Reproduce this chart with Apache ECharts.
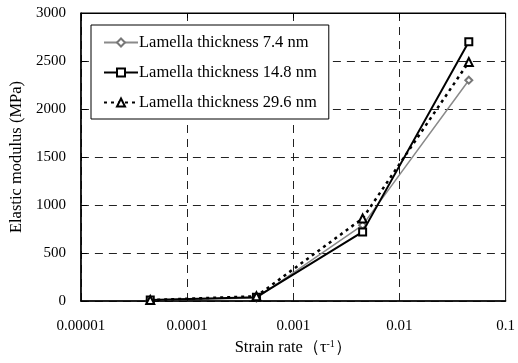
<!DOCTYPE html>
<html><head><meta charset="utf-8">
<script src="https://cdn.jsdelivr.net/npm/echarts@6/dist/echarts.min.js"></script>
<style>html,body{margin:0;padding:0;background:#fff}#c{width:518px;height:363px}</style>
</head><body><div id="c"></div>
<script>
const strainRates = [0.000045, 0.00045, 0.0045, 0.045];
const series74 = [10, 30, 790, 2300];
const series148 = [10, 40, 720, 2700];
const series296 = [10, 50, 860, 2490];
const seriesNames = ['Lamella thickness 7.4 nm', 'Lamella thickness 14.8 nm', 'Lamella thickness 29.6 nm'];
const xTickLabels = ['0.00001', '0.0001', '0.001', '0.01', '0.1'];
const yTicks = [0, 500, 1000, 1500, 2000, 2500, 3000];

const FONT = 'Liberation Serif';
const pairs = arr => strainRates.map((x, i) => [x, arr[i]]);
const chart = echarts.init(document.getElementById('c'));
const xLabel = v => {
  const e = Math.round(Math.log10(v));
  return xTickLabels[e + 5] || '';
};
chart.setOption({
  animation: false,
  textStyle: { fontFamily: FONT },
  grid: { left: 77, right: 9, top: 13, bottom: 62, show: true, borderColor: '#000', borderWidth: 1, backgroundColor: 'transparent' },
  legend: {
    orient: 'vertical', left: 91, top: 25,
    backgroundColor: '#fff', borderColor: '#000', borderWidth: 1,
    padding: [9, 12, 8, 12], itemWidth: 34, itemHeight: 10, itemGap: 13,
    textStyle: { fontFamily: FONT, fontSize: 16.5, color: '#000', padding: [0, 0, 0, -4] },
    data: seriesNames
  },
  xAxis: [{
    type: 'log', logBase: 10, min: 0.00001, max: 0.1,
    name: '{a|Strain rate（τ}{s|-1}{a|）}', nameLocation: 'middle', nameGap: 38,
    nameTextStyle: { rich: { a: { fontFamily: FONT, fontSize: 16.5, color: '#000' }, s: { fontFamily: FONT, fontSize: 10, color: '#000', verticalAlign: 'top', padding: [0, 0, 8, 0] } } },
    axisLine: { lineStyle: { color: '#000', width: 1.5 } },
    axisTick: { show: false },
    axisLabel: { formatter: xLabel, fontFamily: FONT, fontSize: 15, color: '#000', margin: 18 },
    splitLine: { show: true, lineStyle: { color: '#222', type: [8, 6], width: 1 } },
    minorTick: { show: false }
  }, {
    type: 'log', logBase: 10, min: 0.00001, max: 0.1, position: 'top',
    axisLine: { show: true, lineStyle: { color: '#000', width: 1 } },
    axisTick: { show: true, inside: true, length: 5, lineStyle: { color: '#000' } },
    axisLabel: { show: false }, splitLine: { show: false }
  }],
  yAxis: {
    type: 'value', min: 0, max: 3000, interval: 500,
    name: 'Elastic modulus (MPa)', nameLocation: 'middle', nameGap: 52, nameRotate: 90,
    nameTextStyle: { fontFamily: FONT, fontSize: 16.5, color: '#000' },
    axisLine: { show: true, lineStyle: { color: '#000', width: 1.5 } },
    axisTick: { show: true, inside: true, length: 6, lineStyle: { color: '#000' } },
    axisLabel: { fontFamily: FONT, fontSize: 15, color: '#000', margin: 15,
      formatter: v => yTicks.indexOf(v) >= 0 ? String(v) : '' },
    splitLine: { show: true, lineStyle: { color: '#222', type: [8, 6], width: 1 } }
  },
  series: [
    { name: seriesNames[0], type: 'line', data: pairs(series74), symbol: 'emptyDiamond', symbolSize: 7,
      lineStyle: { color: '#8a8a8a', width: 1.5 }, itemStyle: { color: '#777' }, z: 2 },
    { name: seriesNames[1], type: 'line', data: pairs(series148), symbol: 'emptyRect', symbolSize: 7,
      lineStyle: { color: '#000', width: 2 }, itemStyle: { color: '#000' }, z: 3 },
    { name: seriesNames[2], type: 'line', data: pairs(series296), symbol: 'emptyTriangle', symbolSize: 8,
      lineStyle: { color: '#000', width: 2.5, type: [3, 4] }, itemStyle: { color: '#000' }, z: 4 }
  ]
});
</script></body></html>
